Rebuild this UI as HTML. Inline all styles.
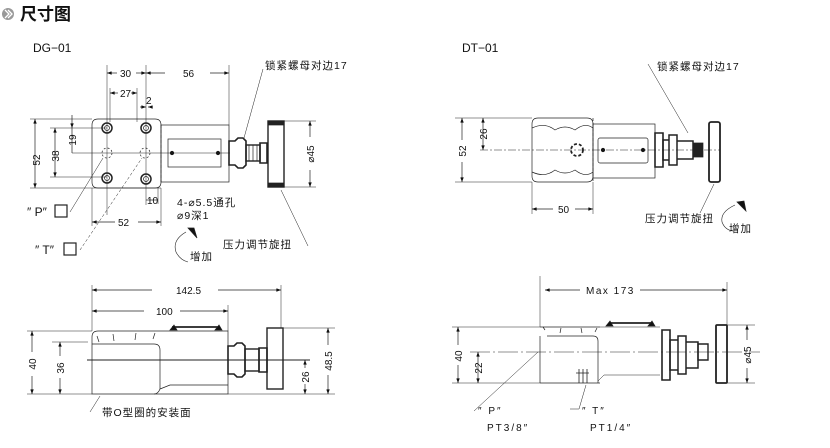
<!DOCTYPE html>
<html><head><meta charset="utf-8"><style>
html,body{margin:0;padding:0;background:#fff;}
svg{display:block;}
text{font-family:"Liberation Sans","Noto Sans CJK SC",sans-serif;fill:#111;font-size:10px;}
.cn{font-size:10.5px;letter-spacing:1px;}
</style></head><body>
<svg width="830" height="448" viewBox="0 0 830 448" xmlns="http://www.w3.org/2000/svg">
<defs>
<marker id="a" viewBox="0 0 8 6" refX="8" refY="3" markerWidth="7" markerHeight="5" orient="auto-start-reverse"><path d="M0,0L8,3L0,6z" fill="#111"/></marker>
</defs>
<circle cx="8" cy="14" r="6" fill="#999"/>
<path d="M5,10l4,4l-4,4M8,10l4,4l-4,4" stroke="#fff" stroke-width="1.3" fill="none"/>
<text x="20" y="20" style="font-size:17px;font-weight:bold">尺寸图</text>
<text x="33" y="52" style="font-size:12px">DG−01</text>
<text x="462" y="52" style="font-size:12px">DT−01</text>

<g stroke="#222" stroke-width="0.7" fill="none">
<path d="M98,119H155Q161,119 161,125V182Q161,188 155,188H98Q92,188 92,182V125Q92,119 98,119z"/>
<rect x="161" y="125" width="68" height="57"/>
<rect x="168" y="139" width="53" height="28"/>
<line x1="161" y1="125" x2="161" y2="182" stroke-dasharray="3,2"/>
<circle cx="107" cy="128" r="5" stroke-width="1.5"/><circle cx="146" cy="128" r="5" stroke-width="1.5"/>
<circle cx="107" cy="178" r="5" stroke-width="1.5"/><circle cx="146" cy="179" r="5" stroke-width="1.5"/>
<circle cx="107" cy="128" r="2.5"/><circle cx="146" cy="128" r="2.5"/>
<circle cx="107" cy="178" r="2.5"/><circle cx="146" cy="179" r="2.5"/>
<circle cx="172" cy="153" r="1.8" fill="#111"/><circle cx="218" cy="153" r="1.8" fill="#111"/>
<circle cx="107" cy="153" r="5" stroke-dasharray="2,2"/><circle cx="145" cy="153" r="5" stroke-dasharray="2,2"/>
<line x1="72" y1="153" x2="230" y2="153" stroke-width="0.5"/>
<line x1="107" y1="65" x2="107" y2="215" stroke-width="0.5"/>
<line x1="146" y1="65" x2="146" y2="205" stroke-width="0.5"/>
<line x1="229" y1="65" x2="229" y2="125" stroke-width="0.5"/>
<line x1="30" y1="119" x2="92" y2="119" stroke-width="0.5"/>
<line x1="30" y1="188" x2="161" y2="188" stroke-width="0.5"/>
<line x1="50" y1="128" x2="107" y2="128" stroke-width="0.5"/>
<line x1="50" y1="177" x2="107" y2="177" stroke-width="0.5"/>
<line x1="92" y1="188" x2="92" y2="226" stroke-width="0.5"/>
<line x1="161" y1="188" x2="161" y2="226" stroke-width="0.5"/>
<line x1="158" y1="188" x2="158" y2="204" stroke-width="0.5"/>
<line x1="110" y1="88" x2="110" y2="122" stroke-width="0.5"/>
<line x1="137" y1="88" x2="137" y2="122" stroke-width="0.5"/>
<line x1="284" y1="121" x2="316" y2="121" stroke-width="0.5"/>
<line x1="284" y1="187" x2="316" y2="187" stroke-width="0.5"/>
<line x1="35" y1="119" x2="35" y2="188" marker-start="url(#a)" marker-end="url(#a)"/>
<line x1="55" y1="128" x2="55" y2="177" marker-start="url(#a)" marker-end="url(#a)"/>
<line x1="72" y1="115" x2="72" y2="128" marker-end="url(#a)"/>
<line x1="72" y1="128" x2="72" y2="153"/>
<line x1="107" y1="73" x2="117" y2="73" marker-start="url(#a)"/><line x1="136" y1="73" x2="146" y2="73" marker-end="url(#a)"/>
<line x1="146" y1="73" x2="165" y2="73" marker-start="url(#a)"/><line x1="210" y1="73" x2="229" y2="73" marker-end="url(#a)"/>
<line x1="110" y1="93" x2="118" y2="93" marker-start="url(#a)"/><line x1="131" y1="93" x2="137" y2="93" marker-end="url(#a)"/>
<line x1="140" y1="107" x2="146" y2="107" marker-end="url(#a)"/><line x1="152" y1="107" x2="148" y2="107" marker-end="url(#a)"/>
<line x1="146" y1="200" x2="158" y2="200"/>
<line x1="92" y1="222" x2="115" y2="222" marker-start="url(#a)"/><line x1="138" y1="222" x2="161" y2="222" marker-end="url(#a)"/>
<line x1="310" y1="121" x2="310" y2="137" marker-start="url(#a)"/><line x1="310" y1="170" x2="310" y2="187" marker-end="url(#a)"/>
<path d="M229,141h6l3,-3h5l3,3v24l-3,3h-5l-3,-3h-6z" stroke-width="1.6"/>
<rect x="246" y="145" width="14" height="16" stroke-width="1.4"/>
<line x1="249" y1="145" x2="249" y2="161"/><line x1="253" y1="145" x2="253" y2="161"/><line x1="257" y1="145" x2="257" y2="161"/>
<path d="M260,143h7v20h-7z" stroke-width="1.6"/>
<rect x="268" y="121" width="16" height="66" stroke-width="1.4"/>
<rect x="268" y="121" width="16" height="4" fill="#222"/><rect x="268" y="183" width="16" height="4" fill="#222"/>
<line x1="263" y1="69" x2="244" y2="138" stroke-width="0.5"/>
<line x1="281" y1="190" x2="308" y2="246" stroke-width="0.5"/>
<line x1="70" y1="212" x2="103" y2="158" stroke-width="0.5"/>
<line x1="80" y1="250" x2="142" y2="158" stroke-width="0.5" stroke-dasharray="3,2"/>
<path d="M186,232Q172,240 176,252Q180,260 188,262" stroke-width="0.6"/>
<path d="M188,228l9,10l-3,-10z" fill="#111"/>

<line x1="92" y1="285" x2="92" y2="331" stroke-width="0.5"/>
<line x1="228" y1="305" x2="228" y2="331" stroke-width="0.5"/>
<line x1="281" y1="285" x2="281" y2="328" stroke-width="0.5"/>
<line x1="92" y1="290" x2="152" y2="290" marker-start="url(#a)"/><line x1="218" y1="290" x2="281" y2="290" marker-end="url(#a)"/>
<line x1="92" y1="311" x2="144" y2="311" marker-start="url(#a)"/><line x1="180" y1="311" x2="228" y2="311" marker-end="url(#a)"/>
<path d="M98,331H228V394H92V337Q92,331 98,331z"/>
<path d="M92,344H154Q160,344 160,350V389Q158,394 154,394"/>
<path d="M160,389L170,385H228"/>
<path d="M97,336l2,6M113,334l1,7M136,333l-1,7M155,333l-2,6"/>
<path d="M172,327H220" stroke-width="1.8"/><path d="M170,330l4,-5l3,5zM215,330l4,-5l3,5z" fill="#111"/>
<line x1="87" y1="360" x2="310" y2="360" stroke-width="0.9"/>
<path d="M228,346h6l3,-3h5l3,3v28l-3,3h-5l-3,-3h-6z" stroke-width="1.6"/>
<rect x="245" y="349" width="14" height="22" stroke-width="1.4"/>
<path d="M259,348h8v24h-8z" stroke-width="1.6"/>
<rect x="267" y="328" width="16" height="61" stroke-width="1.4"/>
<line x1="27" y1="331" x2="92" y2="331" stroke-width="0.5"/>
<line x1="27" y1="394" x2="92" y2="394" stroke-width="0.5"/>
<line x1="52" y1="342" x2="88" y2="342" stroke-width="0.5"/>
<line x1="283" y1="328" x2="335" y2="328" stroke-width="0.5"/>
<line x1="228" y1="394" x2="335" y2="394" stroke-width="0.5"/>
<line x1="32" y1="331" x2="32" y2="352" marker-start="url(#a)"/><line x1="32" y1="376" x2="32" y2="394" marker-end="url(#a)"/>
<line x1="60" y1="342" x2="60" y2="356" marker-start="url(#a)"/><line x1="60" y1="378" x2="60" y2="394" marker-end="url(#a)"/>
<line x1="305" y1="360" x2="305" y2="368" marker-start="url(#a)"/><line x1="305" y1="384" x2="305" y2="394" marker-end="url(#a)"/>
<line x1="328" y1="328" x2="328" y2="345" marker-start="url(#a)"/><line x1="328" y1="375" x2="328" y2="394" marker-end="url(#a)"/>
<line x1="90" y1="412" x2="100" y2="396" stroke-width="0.5"/>

<path d="M538,118H587Q593,118 593,124V176Q593,182 587,182H538Q532,182 532,176V124Q532,118 538,118z"/>
<path d="M532,128Q545,122 555,130Q565,124 575,130Q585,122 593,128M532,172Q545,178 555,170Q565,176 575,170Q585,178 593,172"/>
<line x1="593" y1="118" x2="593" y2="182" stroke-dasharray="3,2"/>
<rect x="593" y="124" width="62" height="54"/>
<rect x="598" y="138" width="50" height="25" rx="2"/>
<circle cx="603" cy="150" r="1.8" fill="#111"/><circle cx="643" cy="150" r="1.8" fill="#111"/>
<circle cx="577" cy="150" r="6" stroke-width="1.8" stroke-dasharray="3,2"/>
<line x1="480" y1="150" x2="720" y2="150" stroke-width="0.5" stroke-dasharray="8,2,2,2"/>
<path d="M655,133h8v34h-8z" stroke-width="1.6"/>
<path d="M663,140h6v20h-6zM669,135h8v30h-8zM677,141h16v18h-16z" stroke-width="1.5"/>
<path d="M693,143h10v14h-10z" fill="#222"/>
<rect x="709" y="122" width="11" height="60" rx="2" stroke-width="1.8"/>
<line x1="455" y1="118" x2="532" y2="118" stroke-width="0.5"/>
<line x1="455" y1="182" x2="532" y2="182" stroke-width="0.5"/>
<line x1="532" y1="182" x2="532" y2="214" stroke-width="0.5"/>
<line x1="593" y1="182" x2="593" y2="214" stroke-width="0.5"/>
<line x1="462" y1="118" x2="462" y2="140" marker-start="url(#a)"/><line x1="462" y1="162" x2="462" y2="182" marker-end="url(#a)"/>
<line x1="483" y1="118" x2="483" y2="150" marker-start="url(#a)" marker-end="url(#a)"/>
<line x1="532" y1="209" x2="553" y2="209" marker-start="url(#a)"/><line x1="575" y1="209" x2="593" y2="209" marker-end="url(#a)"/>
<line x1="648" y1="64" x2="688" y2="133" stroke-width="0.5"/>
<line x1="714" y1="184" x2="700" y2="213" stroke-width="0.5"/>
<path d="M735,205Q720,212 722,222Q725,230 733,231" stroke-width="0.6"/>
<path d="M737,202l9,9l-2,-10z" fill="#111"/>

<line x1="540" y1="276" x2="540" y2="327" stroke-width="0.5"/>
<line x1="727" y1="282" x2="727" y2="325" stroke-width="0.5"/>
<line x1="545" y1="290" x2="580" y2="290" marker-start="url(#a)"/><line x1="640" y1="290" x2="727" y2="290" marker-end="url(#a)"/>
<path d="M540,327H600M540,383H600"/>
<path d="M547,336H593Q598,336 598,341V383M540,336V383"/>
<path d="M545,330l-2,-3M560,333l1,-5M582,333l-1,-5M595,332l2,-4"/>
<path d="M598,381l6,-6H660M600,327H660" stroke-width="0.5"/>
<path d="M609,323H651" stroke-width="1.8"/><path d="M606,326l4,-5l3,5zM648,326l4,-5l3,5z" fill="#111"/>
<path d="M579,369v14M583,369v14M587,369v14M576,373h13" stroke-width="0.8"/>
<line x1="470" y1="352" x2="760" y2="352" stroke-width="0.5" stroke-dasharray="20,3,2,3"/>
<path d="M662,330h8v50h-8z" stroke-width="1.6"/>
<path d="M670,340h8v30h-8zM678,336h8v38h-8zM686,342h12v26h-12z" stroke-width="1.5"/>
<path d="M698,344h10v16h-10z" stroke-width="1.4"/>
<rect x="716" y="325" width="11" height="58" rx="1" stroke-width="1.8"/>
<line x1="452" y1="327" x2="540" y2="327" stroke-width="0.5"/>
<line x1="452" y1="383" x2="540" y2="383" stroke-width="0.5"/>
<line x1="727" y1="325" x2="755" y2="325" stroke-width="0.5"/>
<line x1="727" y1="383" x2="755" y2="383" stroke-width="0.5"/>
<line x1="458" y1="327" x2="458" y2="345" marker-start="url(#a)"/><line x1="458" y1="365" x2="458" y2="383" marker-end="url(#a)"/>
<line x1="478" y1="352" x2="478" y2="383" marker-start="url(#a)" marker-end="url(#a)"/>
<line x1="747" y1="325" x2="747" y2="340" marker-start="url(#a)"/><line x1="747" y1="368" x2="747" y2="383" marker-end="url(#a)"/>
<line x1="474" y1="411" x2="538" y2="352" stroke-width="0.5"/>
<path d="M570,409h9l7,-24" stroke-width="0.5"/>
</g>

<text x="120" y="77">30</text>
<text x="183" y="77">56</text>
<text x="120" y="97">27</text>
<text x="146" y="104">2</text>
<text x="147" y="204">10</text>
<text x="118" y="226">52</text>
<text x="40" y="160" transform="rotate(-90 40 160)" text-anchor="middle">52</text>
<text x="59" y="156" transform="rotate(-90 59 156)" text-anchor="middle">38</text>
<text x="76" y="140" transform="rotate(-90 76 140)" text-anchor="middle">19</text>
<text x="314" y="154" transform="rotate(-90 314 154)" text-anchor="middle">⌀45</text>
<text x="177" y="206" class="cn">4-⌀5.5通孔</text>
<text x="177" y="219" class="cn">⌀9深1</text>
<text x="27" y="216" style="font-size:12px">″ P″</text>
<rect x="55" y="205" width="12" height="12" fill="none" stroke="#222" stroke-width="1.2"/>
<text x="35" y="254" style="font-size:12px">″ T″</text>
<rect x="64" y="243" width="12" height="12" fill="none" stroke="#222" stroke-width="1.2"/>
<text x="190" y="260" class="cn">增加</text>
<text x="223" y="248" class="cn">压力调节旋扭</text>
<text x="265" y="69" class="cn">锁紧螺母对边17</text>
<text x="176" y="294">142.5</text>
<text x="156" y="315">100</text>
<text x="36" y="364" transform="rotate(-90 36 364)" text-anchor="middle">40</text>
<text x="64" y="368" transform="rotate(-90 64 368)" text-anchor="middle">36</text>
<text x="309" y="377" transform="rotate(-90 309 377)" text-anchor="middle">26</text>
<text x="332" y="361" transform="rotate(-90 332 361)" text-anchor="middle">48.5</text>
<text x="102" y="416" class="cn">带O型圈的安装面</text>
<text x="558" y="213">50</text>
<text x="466" y="151" transform="rotate(-90 466 151)" text-anchor="middle">52</text>
<text x="487" y="134" transform="rotate(-90 487 134)" text-anchor="middle">26</text>
<text x="657" y="70" class="cn">锁紧螺母对边17</text>
<text x="645" y="222" class="cn">压力调节旋扭</text>
<text x="729" y="232" class="cn">增加</text>
<text x="586" y="294" style="letter-spacing:1.5px">Max 173</text>
<text x="462" y="356" transform="rotate(-90 462 356)" text-anchor="middle">40</text>
<text x="482" y="368" transform="rotate(-90 482 368)" text-anchor="middle">22</text>
<text x="751" y="355" transform="rotate(-90 751 355)" text-anchor="middle">⌀45</text>
<text x="478" y="414" style="letter-spacing:2px">″ P″</text>
<text x="487" y="431" style="letter-spacing:2px">PT3/8″</text>
<text x="582" y="414" style="letter-spacing:2px">″ T″</text>
<text x="590" y="431" style="letter-spacing:2px">PT1/4″</text>
</svg>
</body></html>
